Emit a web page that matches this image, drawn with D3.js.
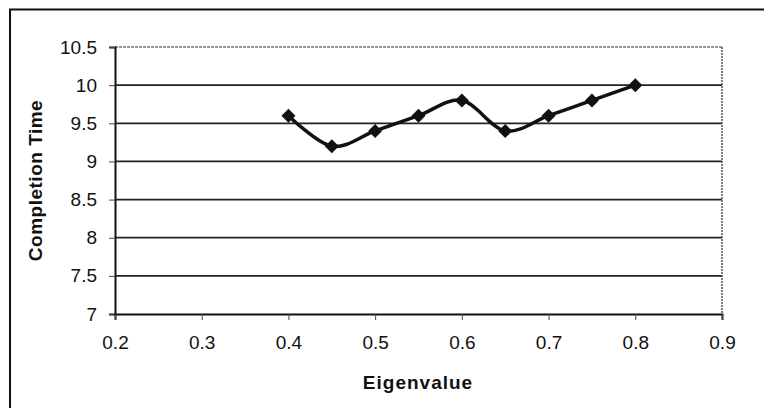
<!DOCTYPE html>
<html><head><meta charset="utf-8">
<script src="https://cdn.jsdelivr.net/npm/d3@7"></script>
<style>html,body{margin:0;padding:0;background:#fff;overflow:hidden}</style>
</head><body>
<svg id="c" width="764" height="408"></svg>
<script>
const eigenvalues = [0.4, 0.45, 0.5, 0.55, 0.6, 0.65, 0.7, 0.75, 0.8];
const completionTimes = [9.6, 9.2, 9.4, 9.6, 9.8, 9.4, 9.6, 9.8, 10.0];
const xTicks = [0.2, 0.3, 0.4, 0.5, 0.6, 0.7, 0.8, 0.9];
const yTicks = [7, 7.5, 8, 8.5, 9, 9.5, 10, 10.5];
const xTitle = "Eigenvalue";
const yTitle = "Completion Time";

const svg = d3.select("#c");
const L = 115, R = 722, T = 47, B = 314;
const x = d3.scaleLinear().domain([0.2, 0.9]).range([L, R]);
const y = d3.scaleLinear().domain([7, 10.5]).range([B, T]);
const font = "Arial, 'Liberation Sans', sans-serif";

// outer frame
svg.append("path").attr("d", `M10,420 L10,9.5 L780,9.5`)
  .attr("fill", "none").attr("stroke", "#111").attr("stroke-width", 2);

// gridlines
svg.append("g").selectAll("line").data(yTicks.filter(d => d > 7 && d < 10.5)).join("line")
  .attr("x1", L).attr("x2", R).attr("y1", d => y(d)).attr("y2", d => y(d))
  .attr("stroke", "#222").attr("stroke-width", 1.8);
// top gridline lighter
svg.append("line").attr("x1", L).attr("x2", R).attr("y1", y(10.5)).attr("y2", y(10.5))
  .attr("stroke", "#777").attr("stroke-width", 1.5).attr("stroke-dasharray", "3,1");
// right border
svg.append("line").attr("x1", R).attr("x2", R).attr("y1", T).attr("y2", B)
  .attr("stroke", "#555").attr("stroke-width", 1.5).attr("stroke-dasharray", "2,1");

// axes
const yAxis = d3.axisLeft(y).tickValues(yTicks).tickSize(6).tickPadding(12).tickFormat(d3.format("~g"));
const gy = svg.append("g").attr("transform", `translate(${L},0)`).call(yAxis);
const xAxis = d3.axisBottom(x).tickValues(xTicks).tickSize(6).tickPadding(16).tickFormat(d3.format("~g"));
const gx = svg.append("g").attr("transform", `translate(0,${B})`).call(xAxis);
[gx, gy].forEach(g => {
  g.select(".domain").attr("stroke", "#111").attr("stroke-width", 2);
  g.selectAll(".tick line").attr("stroke", "#444").attr("stroke-width", 1);
  g.selectAll("text").attr("font-family", font).attr("font-size", 19).attr("fill", "#111");
});
gy.selectAll(".tick text").attr("x", -18);

// titles
svg.append("text").attr("x", 418).attr("y", 389).attr("text-anchor", "middle")
  .attr("font-family", font).attr("font-weight", "bold").attr("font-size", 19)
  .attr("letter-spacing", 1).attr("fill", "#111").text(xTitle);
svg.append("text").attr("transform", `translate(42,${(T + B) / 2}) rotate(-90)`)
  .attr("text-anchor", "middle").attr("font-family", font).attr("font-weight", "bold")
  .attr("font-size", 19).attr("letter-spacing", 0.5).attr("fill", "#111").text(yTitle);

// line
const pts = eigenvalues.map((e, i) => [e, completionTimes[i]]);
const line = d3.line().x(d => x(d[0])).y(d => y(d[1])).curve(d3.curveCatmullRom.alpha(0));
svg.append("path").attr("d", line(pts)).attr("fill", "none")
  .attr("stroke", "#111").attr("stroke-width", 3.5);
svg.append("g").selectAll("path").data(pts).join("path")
  .attr("transform", d => `translate(${x(d[0])},${y(d[1])})`)
  .attr("d", "M0,-7 L7,0 L0,7 L-7,0 Z").attr("fill", "#111");
</script>
</body></html>
